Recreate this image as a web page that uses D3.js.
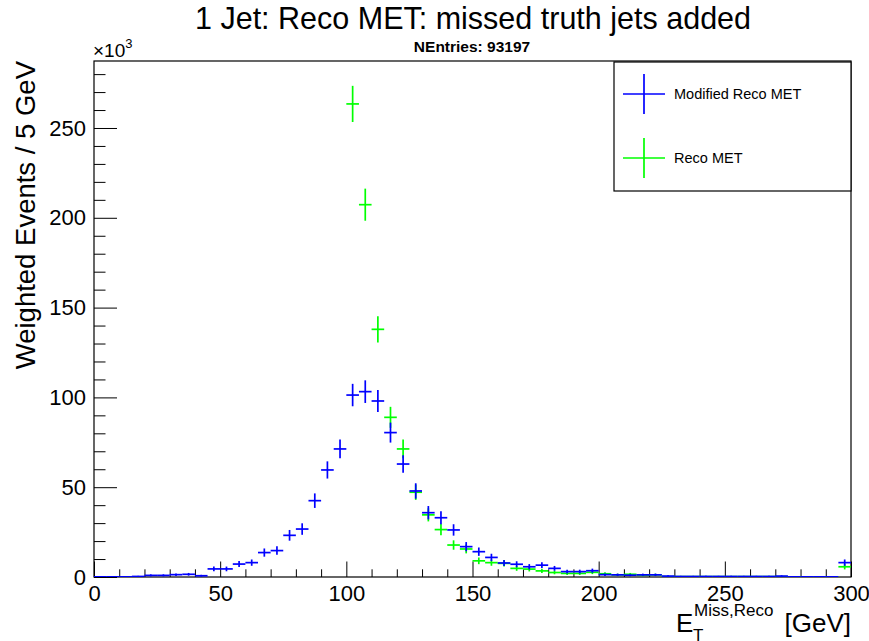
<!DOCTYPE html>
<html>
<head>
<meta charset="utf-8">
<script src="https://cdn.jsdelivr.net/npm/d3@7/dist/d3.min.js"></script>
<style>
  body { margin: 0; background: #fff; }
  svg { display: block; font-family: "Liberation Sans", Arial, Helvetica, sans-serif; }
</style>
</head>
<body>
<svg id="chart" width="869" height="641"></svg>
<script>
// Histogram binning: 60 bins of 5 GeV between 0 and 300 GeV
const binWidth = 5;
const xRange = [0, 300];

// Weighted events per bin, in units of 10^3
const modifiedRecoMet = [
  0.1, 0.1, 0.1, 0.3, 0.9, 0.9, 1.3, 1.5, 0.7, 4.5,
  4.5, 7.2, 8.0, 13.6, 14.7, 23.2, 26.7, 42.5, 59.6, 71.3,
  101.3, 103.2, 98.0, 80.4, 62.9, 47.9, 35.8, 33.0, 26.2, 16.9,
  14.1, 10.9, 7.8, 7.1, 5.7, 6.6, 4.8, 3.0, 3.0, 3.5,
  1.3, 1.2, 1.0, 1.2, 1.2, 0.5, 0.3, 0.3, 0.3, 0.3,
  0.3, 0.3, 0.3, 0.3, 0.5, 0.1, 0.1, 0.1, 0.1, 8.0
];
const recoMet = [
  0, 0, 0, 0, 0, 0, 0, 0, 0, 0,
  0, 0, 0, 0, 0, 0, 0, 0, 0, 0,
  263.4, 207.3, 137.9, 88.9, 71.3, 47.2, 34.6, 26.4, 17.8, 15.6,
  9.0, 8.0, 7.6, 4.8, 4.4, 3.4, 2.5, 2.0, 2.0, 2.6,
  1.8, 1.2, 1.5, 1.0, 1.2, 0.2, 0.2, 0.2, 0.2, 0.2,
  0.2, 0.2, 0.2, 0.2, 0.2, 0.1, 0.1, 0.1, 0.1, 5.7
];
// Per-event weight used for the bin uncertainties sqrt(sum w^2)
const eventWeight = 385;

const xMajorTicks = [0, 50, 100, 150, 200, 250, 300];
const yMajorTicks = [0, 50, 100, 150, 200, 250];

const seriesNames = ["Modified Reco MET", "Reco MET"];
const seriesColors = ["#0000ff", "#00ff00"];

const titleText = "1 Jet: Reco MET: missed truth jets added";
const entriesText = "NEntries: 93197";
const yTitleText = "Weighted Events / 5 GeV";

// ---- layout
const svg = d3.select("#chart");
const frame = { left: 94, right: 851, top: 61, bottom: 577 };
const yMax = 287.3;

const x = d3.scaleLinear().domain(xRange).range([frame.left, frame.right]);
const y = d3.scaleLinear().domain([0, yMax]).range([frame.bottom, frame.top]);

svg.append("rect").attr("width", 869).attr("height", 641).attr("fill", "#fff");

svg.append("defs").append("clipPath").attr("id", "plotClip")
  .append("rect")
  .attr("x", frame.left).attr("y", frame.top)
  .attr("width", frame.right - frame.left).attr("height", frame.bottom - frame.top);

// ---- axes
const xMinor = d3.range(xRange[0], xRange[1] + 0.001, 10).filter(v => v % 50 !== 0);
const yMinor = d3.range(0, yMax, 10).filter(v => v % 50 !== 0);

const gx = svg.append("g").attr("transform", `translate(0,${frame.bottom})`);
gx.call(d3.axisBottom(x).tickValues(xMajorTicks).tickSize(-15.5).tickPadding(8).tickFormat(d3.format("d")));
gx.append("g").call(d3.axisBottom(x).tickValues(xMinor).tickSize(-7.7).tickFormat(""));

const gy = svg.append("g").attr("transform", `translate(${frame.left},0)`);
gy.call(d3.axisLeft(y).tickValues(yMajorTicks).tickSize(-23).tickPadding(8).tickFormat(d3.format("d")));
gy.append("g").call(d3.axisLeft(y).tickValues(yMinor).tickSize(-11.5).tickFormat(""));

svg.selectAll(".domain").remove();
svg.selectAll(".tick line").attr("stroke", "#000").attr("stroke-width", 1);
svg.selectAll(".tick text").attr("fill", "#000").attr("font-size", 22)
  .attr("font-family", "'Liberation Sans', Arial, sans-serif");

// frame
svg.append("rect")
  .attr("x", frame.left).attr("y", frame.top)
  .attr("width", frame.right - frame.left).attr("height", frame.bottom - frame.top)
  .attr("fill", "none").attr("stroke", "#000").attr("stroke-width", 1.2);

// ---- histogram points with error bars
const plot = svg.append("g").attr("clip-path", "url(#plotClip)");

function drawSeries(values, color) {
  const bins = values.map((v, i) => ({
    lo: xRange[0] + i * binWidth,
    hi: xRange[0] + (i + 1) * binWidth,
    v: v,
    err: Math.sqrt(eventWeight * v * 1000) / 1000
  })).filter(d => d.v > 0);
  const g = plot.append("g").attr("stroke", color).attr("stroke-width", 1.7).attr("fill", "none");
  g.selectAll("line.h").data(bins).join("line").attr("class", "h")
    .attr("x1", d => x(d.lo)).attr("x2", d => x(d.hi))
    .attr("y1", d => y(d.v)).attr("y2", d => y(d.v));
  g.selectAll("line.v").data(bins).join("line").attr("class", "v")
    .attr("x1", d => x((d.lo + d.hi) / 2)).attr("x2", d => x((d.lo + d.hi) / 2))
    .attr("y1", d => y(Math.max(0, d.v - d.err))).attr("y2", d => y(d.v + d.err));
}
drawSeries(recoMet, seriesColors[1]);
drawSeries(modifiedRecoMet, seriesColors[0]);

// ---- texts
svg.append("text").attr("x", 473).attr("y", 29).attr("text-anchor", "middle")
  .attr("font-size", 30.5).text(titleText);

svg.append("text").attr("x", 472).attr("y", 52).attr("text-anchor", "middle")
  .attr("font-size", 15.5).attr("font-weight", "bold").text(entriesText);

const expo = svg.append("text").attr("x", 93).attr("y", 57).attr("font-size", 19);
expo.append("tspan").text("\u00d710");
expo.append("tspan").attr("font-size", 13).attr("dy", -9).text("3");

svg.append("text")
  .attr("transform", `translate(35,${frame.top}) rotate(-90)`)
  .attr("text-anchor", "end").attr("font-size", 27.5).text(yTitleText);

const xt = svg.append("text").attr("y", 632).attr("font-size", 26);
xt.append("tspan").attr("x", 676).text("E");
svg.append("text").attr("x", 694).attr("y", 616).attr("font-size", 17).text("Miss,Reco");
svg.append("text").attr("x", 693).attr("y", 641).attr("font-size", 17).text("T");
svg.append("text").attr("x", 851).attr("y", 632).attr("text-anchor", "end")
  .attr("font-size", 26).text("[GeV]");

// ---- legend
const legend = svg.append("g");
legend.append("rect").attr("x", 614).attr("y", 62).attr("width", 237).attr("height", 129)
  .attr("fill", "#fff").attr("stroke", "#000").attr("stroke-width", 1.2);
const legendRows = seriesNames.map((name, i) => ({ name, color: seriesColors[i], cy: [94, 158][i] }));
legendRows.forEach(r => {
  legend.append("line").attr("x1", 623).attr("x2", 665).attr("y1", r.cy).attr("y2", r.cy)
    .attr("stroke", r.color).attr("stroke-width", 1.7);
  legend.append("line").attr("x1", 644).attr("x2", 644).attr("y1", r.cy - 20).attr("y2", r.cy + 20)
    .attr("stroke", r.color).attr("stroke-width", 1.7);
  legend.append("text").attr("x", 674).attr("y", r.cy + 5).attr("font-size", 14.5).text(r.name);
});
</script>
</body>
</html>
